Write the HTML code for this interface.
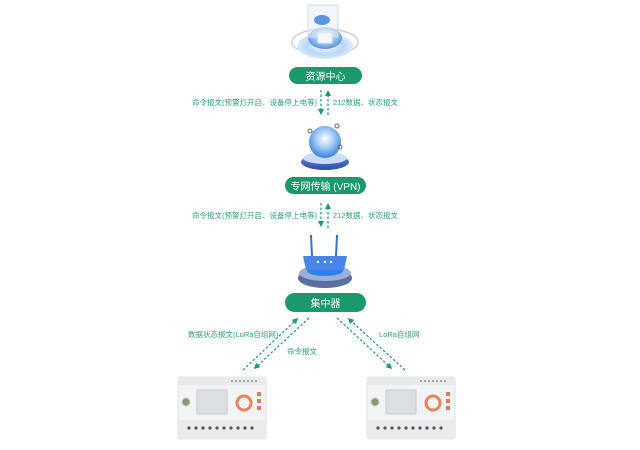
<!DOCTYPE html>
<html><head><meta charset="utf-8"><style>
html,body{margin:0;padding:0;background:#fff;}
body{width:640px;height:445px;overflow:hidden;position:relative;font-family:"Liberation Sans","Noto Sans CJK SC",sans-serif;}
</style></head><body>
<svg width="640" height="445" viewBox="0 0 640 445" xmlns="http://www.w3.org/2000/svg" font-family="Liberation Sans, Noto Sans CJK SC, sans-serif">
<defs>
<marker id="ah" markerWidth="6" markerHeight="6" refX="3" refY="3" orient="auto" markerUnits="userSpaceOnUse"><path d="M0,0 L6,3 L0,6 z" fill="#1a9a6a"/></marker>
<radialGradient id="bl" cx="50%" cy="40%" r="60%"><stop offset="0" stop-color="#ffffff"/><stop offset="0.5" stop-color="#9cc8f2"/><stop offset="1" stop-color="#3a7fe0"/></radialGradient>
<radialGradient id="bl2" cx="50%" cy="50%" r="55%"><stop offset="0" stop-color="#ffffff"/><stop offset="0.6" stop-color="#b9d6f5"/><stop offset="1" stop-color="#e8f1fb"/></radialGradient>
<linearGradient id="dk" x1="0" y1="0" x2="0" y2="1"><stop offset="0" stop-color="#6b8fe0"/><stop offset="1" stop-color="#2a4aa8"/></linearGradient>
</defs>
<!-- cloud/resource icon -->
<ellipse cx="325" cy="42" rx="33" ry="13" fill="none" stroke="#d0d0d0" stroke-width="1.5"/>
<ellipse cx="325" cy="46" rx="28" ry="13" fill="url(#bl2)"/>
<ellipse cx="325" cy="38" rx="17" ry="11" fill="url(#bl)" fill-opacity="0.85"/>
<rect x="308" y="5" width="30" height="32" fill="#e6eef7" fill-opacity="0.5" stroke="#d4dce8"/>
<ellipse cx="322" cy="20" rx="8" ry="5" fill="#5b94e0"/>
<rect x="318" y="33" width="14" height="10" fill="#f4f8fc" stroke="#dde6f0"/>
<!-- VPN globe -->
<ellipse cx="325" cy="162" rx="24" ry="8" fill="url(#dk)"/>
<ellipse cx="325" cy="158" rx="22" ry="6" fill="#c9dbf5"/>
<circle cx="325" cy="142" r="16" fill="url(#bl)"/>
<circle cx="310" cy="131" r="2" fill="none" stroke="#666"/>
<circle cx="337" cy="126" r="2" fill="none" stroke="#666"/>
<circle cx="340" cy="147" r="2" fill="none" stroke="#666"/>
<!-- router -->
<ellipse cx="325" cy="278" rx="27" ry="10" fill="#5b6f9e"/>
<ellipse cx="325" cy="273" rx="26" ry="8" fill="#9ab0d8"/>
<ellipse cx="325" cy="271" rx="18" ry="5" fill="#2f7fe8"/>
<line x1="311" y1="235" x2="312" y2="256" stroke="#3a6fd0" stroke-width="2"/>
<line x1="337" y1="235" x2="336" y2="256" stroke="#3a6fd0" stroke-width="2"/>
<path d="M303,256 L347,256 L344,270 L306,270 z" fill="#4a86ea"/>
<circle cx="318" cy="262" r="1.2" fill="#fff"/><circle cx="325" cy="262" r="1.2" fill="#fff"/><circle cx="331" cy="262" r="1.2" fill="#fff"/>
<!-- pills -->
<rect x="289" y="67" width="73" height="17" rx="8.5" fill="#1a9a6a"/>
<text x="325.5" y="80" font-size="10" fill="#fff" text-anchor="middle">资源中心</text>
<rect x="285" y="177" width="81" height="17" rx="8.5" fill="#1a9a6a"/>
<text x="325.5" y="190" font-size="10" fill="#fff" text-anchor="middle">专网传输 (VPN)</text>
<rect x="285" y="293" width="81" height="19" rx="9.5" fill="#1a9a6a"/>
<text x="325.5" y="307" font-size="10" fill="#fff" text-anchor="middle">集中器</text>
<!-- arrows -->
<g stroke="#1a9a6a" stroke-width="1.2" stroke-dasharray="2.5,2" fill="none">
<line x1="321" y1="90" x2="321" y2="112" marker-end="url(#ah)"/>
<line x1="328" y1="115" x2="328" y2="93" marker-end="url(#ah)"/>
<line x1="321" y1="203" x2="321" y2="224" marker-end="url(#ah)"/>
<line x1="328" y1="228" x2="328" y2="206" marker-end="url(#ah)"/>
<line x1="243" y1="370" x2="296" y2="320" marker-end="url(#ah)"/>
<line x1="309" y1="318" x2="256" y2="367" marker-end="url(#ah)"/>
<line x1="337" y1="318" x2="390" y2="367" marker-end="url(#ah)"/>
<line x1="405" y1="370" x2="350" y2="320" marker-end="url(#ah)"/>
</g>
<g font-size="7.5" fill="#2fa378">
<text x="317" y="105" text-anchor="end">命令报文(预警灯开启、设备停上电等)</text>
<text x="333" y="105">212数据、状态报文</text>
<text x="317" y="218" text-anchor="end">命令报文(预警灯开启、设备停上电等)</text>
<text x="333" y="218">212数据、状态报文</text>
<text x="188" y="337">数据状态报文(LoRa自组网)</text>
<text x="287" y="354">命令报文</text>
<text x="379" y="337">LoRa自组网</text>
</g>
<!-- devices -->
<g id="dev">
<rect x="178" y="377" width="88" height="62" rx="2" fill="#f1f3f5" stroke="#dde0e3"/>
<rect x="178" y="377" width="88" height="8" fill="#e8eaec"/>
<g fill="#8a8f95"><circle cx="232" cy="381" r="1"/><circle cx="236" cy="381" r="1"/><circle cx="240" cy="381" r="1"/><circle cx="244" cy="381" r="1"/><circle cx="248" cy="381" r="1"/><circle cx="252" cy="381" r="1"/><circle cx="256" cy="381" r="1"/></g>
<rect x="197" y="390" width="30" height="24" fill="#dcdfe2" stroke="#c8ccd0"/>
<circle cx="186" cy="402" r="4" fill="#8a9a70" stroke="#ccc"/>
<circle cx="244" cy="403" r="7" fill="none" stroke="#e9855a" stroke-width="3"/>
<rect x="257" y="392" width="4" height="4" fill="#e07a60"/><rect x="257" y="399" width="4" height="4" fill="#e07a60"/><rect x="257" y="406" width="4" height="4" fill="#e07a60"/>
<rect x="178" y="420" width="88" height="19" fill="#e9ebed"/>
<g fill="#555"><circle cx="189" cy="428" r="1.6"/><circle cx="196" cy="428" r="1.6"/><circle cx="203" cy="428" r="1.6"/><circle cx="210" cy="428" r="1.6"/><circle cx="217" cy="428" r="1.6"/><circle cx="224" cy="428" r="1.6"/><circle cx="231" cy="428" r="1.6"/><circle cx="238" cy="428" r="1.6"/><circle cx="245" cy="428" r="1.6"/><circle cx="252" cy="428" r="1.6"/></g>
</g>
<use href="#dev" x="189" y="0"/>
</svg>
</body></html>
